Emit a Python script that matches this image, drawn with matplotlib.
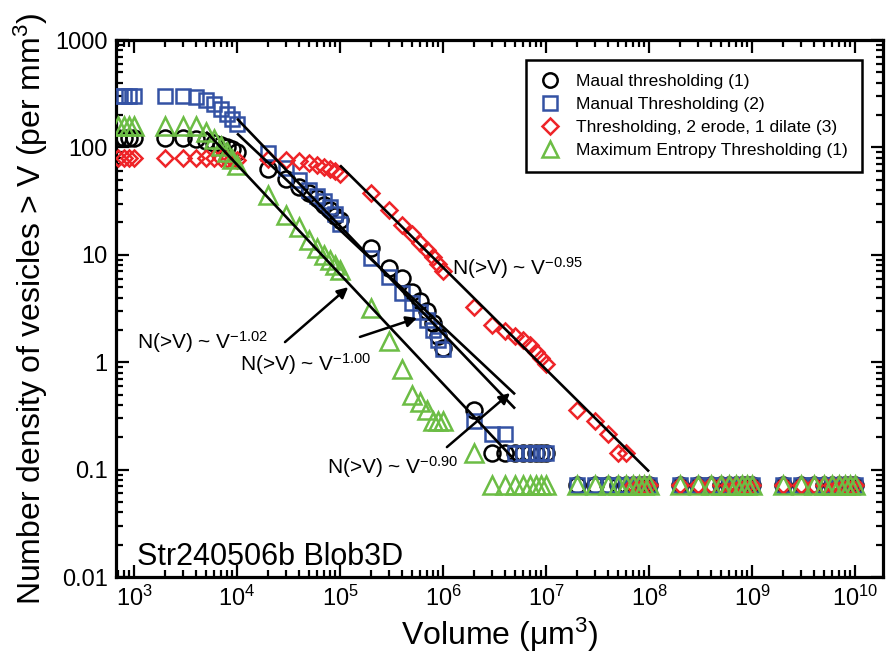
import matplotlib
matplotlib.use('Agg')
import matplotlib.pyplot as plt
import numpy as np
from matplotlib.ticker import LogLocator, FixedLocator, FixedFormatter, NullFormatter

plt.rcParams['font.family'] = ['Liberation Sans', 'DejaVu Sans']
plt.rcParams['mathtext.fontset'] = 'custom'
plt.rcParams['mathtext.rm'] = 'Liberation Sans'
plt.rcParams['mathtext.it'] = 'Liberation Sans:italic'
plt.rcParams['mathtext.bf'] = 'Liberation Sans:bold'
plt.rcParams['mathtext.default'] = 'regular'

# ---------------- data ----------------
volume = [7e2, 8e2, 9e2,
          1e3, 2e3, 3e3, 4e3, 5e3, 6e3, 7e3, 8e3, 9e3,
          1e4, 2e4, 3e4, 4e4, 5e4, 6e4, 7e4, 8e4, 9e4,
          1e5, 2e5, 3e5, 4e5, 5e5, 6e5, 7e5, 8e5, 9e5,
          1e6, 2e6, 3e6, 4e6, 5e6, 6e6, 7e6, 8e6, 9e6,
          1e7, 2e7, 3e7, 4e7, 5e7, 6e7, 7e7, 8e7, 9e7,
          1e8, 2e8, 3e8, 4e8, 5e8, 6e8, 7e8, 8e8, 9e8,
          1e9, 2e9, 3e9, 4e9, 5e9, 6e9, 7e9, 8e9, 9e9,
          1e10]

n_maual1 = [122, 122, 122,
            122, 122, 122, 120, 115, 110, 105, 100, 96,
            91, 63, 51, 43, 38, 34, 29, 26, 23,
            21, 11.6, 7.5, 6.1, 4.5, 3.7, 3.0, 2.3, 1.75,
            1.36, 0.357, 0.143, 0.143, 0.143, 0.143, 0.143, 0.143, 0.143,
            0.143, 0.0714, 0.0714, 0.0714, 0.0714, 0.0714, 0.0714, 0.0714, 0.0714,
            0.0714, 0.0714, 0.0714, 0.0714, 0.0714, 0.0714, 0.0714, 0.0714, 0.0714,
            0.0714, 0.0714, 0.0714, 0.0714, 0.0714, 0.0714, 0.0714, 0.0714, 0.0714,
            0.0714]

n_manual2 = [300, 300, 300,
             300, 300, 300, 295, 276, 254, 228, 205, 184,
             165, 89, 64, 50, 40, 35, 31.7, 28, 24,
             19.5, 9.3, 6.2, 4.4, 3.56, 2.93, 2.47, 2.0, 1.61,
             1.33, 0.286, 0.214, 0.214, 0.143, 0.143, 0.143, 0.143, 0.143,
             0.143, 0.0714, 0.0714, 0.0714, 0.0714, 0.0714, 0.0714, 0.0714, 0.0714,
             0.0714, 0.0714, 0.0714, 0.0714, 0.0714, 0.0714, 0.0714, 0.0714, 0.0714,
             0.0714, 0.0714, 0.0714, 0.0714, 0.0714, 0.0714, 0.0714, 0.0714, 0.0714,
             0.0714]

n_erode3 = [80, 80, 80,
            80, 80, 80, 80, 80, 79, 79, 78, 78,
            77, 78, 77, 74.6, 71.6, 68.4, 65.7, 62.8, 60,
            57, 37.6, 26, 19, 15.6, 12.9, 11.1, 9.55, 8.2,
            7.06, 3.26, 2.2, 1.95, 1.75, 1.61, 1.45, 1.24, 1.09,
            0.96, 0.357, 0.286, 0.214, 0.143, 0.143, 0.0714, 0.0714, 0.0714,
            0.0714, 0.0714, 0.0714, 0.0714, 0.0714, 0.0714, 0.0714, 0.0714, 0.0714,
            0.0714, 0.0714, 0.0714, 0.0714, 0.0714, 0.0714, 0.0714, 0.0714, 0.0714,
            0.0714]

n_maxent1 = [160, 160, 160,
             160, 160, 160, 158, 140, 120, 103, 90, 78,
             69, 36, 23.5, 18.2, 13.7, 11.6, 9.95, 8.9, 8.0,
             7.2, 3.2, 1.57, 0.857, 0.5, 0.43, 0.36, 0.286, 0.286,
             0.286, 0.143, 0.0714, 0.0714, 0.0714, 0.0714, 0.0714, 0.0714, 0.0714,
             0.0714, 0.0714, 0.0714, 0.0714, 0.0714, 0.0714, 0.0714, 0.0714, 0.0714,
             0.0714, 0.0714, 0.0714, 0.0714, 0.0714, 0.0714, 0.0714, 0.0714, 0.0714,
             0.0714, 0.0714, 0.0714, 0.0714, 0.0714, 0.0714, 0.0714, 0.0714, 0.0714,
             0.0714]

series_labels = ['Maual thresholding (1)', 'Manual Thresholding (2)',
                 'Thresholding, 2 erode, 1 dilate (3)', 'Maximum Entropy Thresholding (1)']

# power-law fits: exponent, V start, V end, N at V start
fit_exponent = [-0.95, -1.00, -0.90, -1.02]
fit_vstart = [1e5, 1e4, 1e4, 5e3]
fit_vend = [1e8, 5e6, 5e6, 5e6]
fit_nstart = [68, 185, 135, 140]

x_ticks = [1e3, 1e4, 1e5, 1e6, 1e7, 1e8, 1e9, 1e10]
x_ticklabels = ['$10^{3}$', '$10^{4}$', '$10^{5}$', '$10^{6}$', '$10^{7}$', '$10^{8}$', '$10^{9}$', '$10^{10}$']
y_ticks = [0.01, 0.1, 1, 10, 100, 1000]
y_ticklabels = ['0.01', '0.1', '1', '10', '100', '1000']

# ---------------- figure ----------------
fig = plt.figure(figsize=(8.87, 6.54), dpi=100)
ax = fig.add_axes([0.1308, 0.1177, 0.8647, 0.8211])
ax.set_xscale('log')
ax.set_yscale('log')

blue = '#3452a4'
red = '#ee2428'
green = '#6cbd45'
mew = 1.8

ax.plot(volume, n_maual1, linestyle='none', marker='o', ms=11.5, mfc='none', mec='black', mew=mew, label=series_labels[0], zorder=3)
ax.plot(volume, n_manual2, linestyle='none', marker='s', ms=10.5, mfc='none', mec=blue, mew=mew, label=series_labels[1], zorder=3)
ax.plot(volume, n_erode3, linestyle='none', marker='D', ms=8.5, mfc='none', mec=red, mew=mew, label=series_labels[2], zorder=3)
ax.plot(volume, n_maxent1, linestyle='none', marker='^', ms=12.5, mfc='none', mec=green, mew=mew, label=series_labels[3], zorder=3)

for e, v0, v1, n0 in zip(fit_exponent, fit_vstart, fit_vend, fit_nstart):
    vv = np.array([v0, v1])
    ax.plot(vv, n0 * (vv / v0) ** e, color='black', lw=1.9, zorder=4, solid_capstyle='butt')

ax.set_xlim(668, 1.87e10)
ax.set_ylim(0.01, 1000)

ax.xaxis.set_major_locator(FixedLocator(x_ticks))
ax.xaxis.set_major_formatter(FixedFormatter(x_ticklabels))
ax.xaxis.set_minor_locator(LogLocator(base=10, subs=(2, 3, 4, 5, 6, 7, 8, 9), numticks=100))
ax.xaxis.set_minor_formatter(NullFormatter())
ax.yaxis.set_major_locator(FixedLocator(y_ticks))
ax.yaxis.set_major_formatter(FixedFormatter(y_ticklabels))
ax.yaxis.set_minor_locator(LogLocator(base=10, subs=(2, 3, 4, 5, 6, 7, 8, 9), numticks=100))
ax.yaxis.set_minor_formatter(NullFormatter())

ax.tick_params(which='both', direction='in', top=True, right=True, width=1.6)
ax.tick_params(which='major', length=9, labelsize=17)
ax.tick_params(which='minor', length=5)
ax.tick_params(axis='x', pad=6)
ax.tick_params(axis='y', pad=6)
for s in ax.spines.values():
    s.set_linewidth(2.3)

ax.set_xlabel('Volume (\u03bcm$^{3}$)', fontsize=23, labelpad=4)
ax.set_ylabel('Number density of vesicles > V (per mm$^{3}$)', fontsize=23, labelpad=4)

# annotations
afs = 15
ax.text(1.22e6, 6.5, 'N(>V) ~ V$^{-0.95}$', fontsize=afs, ha='left', va='baseline')
ax.text(1070, 1.33, 'N(>V) ~ V$^{-1.02}$', fontsize=afs, ha='left', va='baseline')
ax.text(1.07e4, 0.83, 'N(>V) ~ V$^{-1.00}$', fontsize=afs, ha='left', va='baseline')
ax.text(7.48e4, 0.091, 'N(>V) ~ V$^{-0.90}$', fontsize=afs, ha='left', va='baseline')

arrow = dict(arrowstyle='-|>', color='black', lw=1.8, mutation_scale=16, shrinkA=0, shrinkB=0)
ax.annotate('', xy=(1.2e5, 5.0), xytext=(2.92e4, 1.54), arrowprops=arrow, zorder=5)
ax.annotate('', xy=(5.6e5, 2.58), xytext=(1.56e5, 1.72), arrowprops=arrow, zorder=5)
ax.annotate('', xy=(4.47e6, 0.516), xytext=(1.09e6, 0.162), arrowprops=arrow, zorder=5)

ax.text(1070, 0.0129, 'Str240506b Blob3D', fontsize=22, ha='left', va='baseline')

leg = ax.legend(loc='upper right', bbox_to_anchor=(0.9726, 0.9628), borderaxespad=0,
                fontsize=12.5, numpoints=1, fancybox=False, shadow=False, framealpha=1,
                edgecolor='black', handlelength=1.2, handletextpad=0.9, borderpad=0.8,
                labelspacing=0.45, markerscale=0.9)
leg.get_frame().set_linewidth(1.8)

fig.savefig('out.png', dpi=100)
